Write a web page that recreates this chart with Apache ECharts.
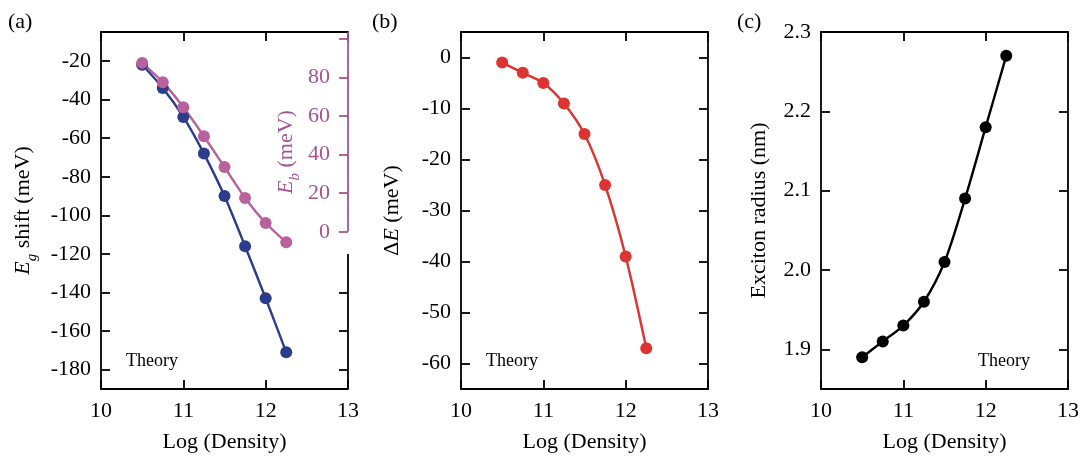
<!DOCTYPE html>
<html><head><meta charset="utf-8">
<script src="https://cdn.jsdelivr.net/npm/echarts@6/dist/echarts.min.js"></script>
<style>html,body{margin:0;padding:0;background:#fff}#c{width:1081px;height:456px}</style>
</head><body><div id="c"></div>
<script>
// ---- data ----
const logDensity = [10.5, 10.75, 11, 11.25, 11.5, 11.75, 12, 12.25];
const egShift = [-22, -34, -49, -68, -90, -116, -143, -171];
const bindingEnergy = [87.5, 77.5, 64.5, 49.5, 33.5, 17.5, 4.5, -5.5];
const deltaE = [-1, -3, -5, -9, -15, -25, -39, -57];
const excitonRadius = [1.89, 1.91, 1.93, 1.96, 2.01, 2.09, 2.18, 2.27];
const xTicks = [10, 11, 12, 13];
const egTicks = [-20, -40, -60, -80, -100, -120, -140, -160, -180];
const egRightTicks = [-140, -160, -180];
const ebTicks = [0, 20, 40, 60, 80, 100];
const ebLabels = [0, 20, 40, 60, 80];
const dETicks = [0, -10, -20, -30, -40, -50, -60];
const rTicks = [1.9, 2.0, 2.1, 2.2, 2.3];

// ---- style ----
const FONT = 'Liberation Serif';
const BLUE = '#2d3c8a', PINK = '#b8619c', PINK_AX = '#a65490', RED = '#dc3431', BLACK = '#000';
const LW = 1.8;

const grids = [
  { left: 101, top: 32, width: 247, height: 357, outerBoundsMode: 'none', containLabel: false },
  { left: 461, top: 32, width: 247, height: 357, outerBoundsMode: 'none', containLabel: false },
  { left: 821, top: 32, width: 247, height: 357, outerBoundsMode: 'none', containLabel: false }
];

function xBottom(g) {
  return {
    gridIndex: g, type: 'value', position: 'bottom', min: 10, max: 13, interval: 1,
    axisLine: { onZero: false, lineStyle: { color: BLACK, width: LW } },
    axisTick: { inside: true, length: 9, lineStyle: { color: BLACK, width: LW } },
    axisLabel: { color: BLACK, fontFamily: FONT, fontSize: 22, margin: 11, customValues: xTicks },
    splitLine: { show: false },
    name: 'Log (Density)', nameLocation: 'middle', nameGap: 42,
    nameTextStyle: { color: BLACK, fontFamily: FONT, fontSize: 22 }
  };
}
function xTop(g) {
  return {
    gridIndex: g, type: 'value', position: 'top', min: 10, max: 13, interval: 1,
    axisLine: { onZero: false, lineStyle: { color: BLACK, width: LW } },
    axisTick: { inside: true, length: 9, lineStyle: { color: BLACK, width: LW } },
    axisLabel: { show: false }, splitLine: { show: false }
  };
}
function zip(xs, ys) { return xs.map((x, i) => [x, ys[i]]); }

const nameRich = {
  i: { fontStyle: 'italic', fontFamily: FONT, fontSize: 22 },
  n: { fontFamily: FONT, fontSize: 22 },
  s: { fontStyle: 'italic', fontFamily: FONT, fontSize: 15, verticalAlign: 'bottom', lineHeight: 34 }
};

const option = {
  animation: false,
  backgroundColor: '#fff',
  grid: grids,
  xAxis: [xBottom(0), xTop(0), xBottom(1), xTop(1), xBottom(2), xTop(2)],
  yAxis: [
    { // a left
      gridIndex: 0, type: 'value', position: 'left', min: -190, max: -5,
      axisLine: { onZero: false, lineStyle: { color: BLACK, width: LW } },
      axisTick: { inside: true, length: 9, lineStyle: { color: BLACK, width: LW }, customValues: egTicks },
      axisLabel: { color: BLACK, fontFamily: FONT, fontSize: 22, margin: 10, customValues: egTicks },
      splitLine: { show: false },
      name: '{i|E}{s|g}{n| shift (meV)}', nameLocation: 'middle', nameRotate: 90, nameGap: 61,
      nameTextStyle: { color: BLACK, fontFamily: FONT, fontSize: 22, rich: nameRich }
    },
    { // a right black
      gridIndex: 0, type: 'value', position: 'right', min: -190, max: -5,
      axisLine: { show: false, onZero: false },
      axisTick: { inside: true, length: 9, lineStyle: { color: BLACK, width: LW }, customValues: egRightTicks },
      axisLabel: { show: false }, splitLine: { show: false }
    },
    { // a right pink (Eb)
      gridIndex: 0, type: 'value', position: 'right', min: -81.5, max: 103.5,
      axisLine: { show: false, onZero: false },
      axisTick: { inside: true, length: 9, lineStyle: { color: PINK_AX, width: LW }, customValues: ebTicks },
      axisLabel: { inside: true, color: PINK_AX, fontFamily: FONT, fontSize: 22, margin: 18, customValues: ebLabels },
      splitLine: { show: false }
    },
    { // b left
      gridIndex: 1, type: 'value', position: 'left', min: -65, max: 5,
      axisLine: { onZero: false, lineStyle: { color: BLACK, width: LW } },
      axisTick: { inside: true, length: 9, lineStyle: { color: BLACK, width: LW }, customValues: dETicks },
      axisLabel: { color: BLACK, fontFamily: FONT, fontSize: 22, margin: 10, customValues: dETicks },
      splitLine: { show: false },
      name: '{n|Δ}{i|E}{n| (meV)}', nameLocation: 'middle', nameRotate: 90, nameGap: 58,
      nameTextStyle: { color: BLACK, fontFamily: FONT, fontSize: 22, rich: nameRich }
    },
    { // b right
      gridIndex: 1, type: 'value', position: 'right', min: -65, max: 5,
      axisLine: { onZero: false, lineStyle: { color: BLACK, width: LW } },
      axisTick: { inside: true, length: 9, lineStyle: { color: BLACK, width: LW }, customValues: dETicks },
      axisLabel: { show: false }, splitLine: { show: false }
    },
    { // c left
      gridIndex: 2, type: 'value', position: 'left', min: 1.85, max: 2.3,
      axisLine: { onZero: false, lineStyle: { color: BLACK, width: LW } },
      axisTick: { inside: true, length: 9, lineStyle: { color: BLACK, width: LW }, customValues: rTicks },
      axisLabel: { color: BLACK, fontFamily: FONT, fontSize: 22, margin: 10, customValues: rTicks,
        formatter: v => Number(v).toFixed(1) },
      splitLine: { show: false },
      name: 'Exciton radius (nm)', nameLocation: 'middle', nameRotate: 90, nameGap: 51,
      nameTextStyle: { color: BLACK, fontFamily: FONT, fontSize: 22 }
    },
    { // c right
      gridIndex: 2, type: 'value', position: 'right', min: 1.85, max: 2.3,
      axisLine: { onZero: false, lineStyle: { color: BLACK, width: LW } },
      axisTick: { inside: true, length: 9, lineStyle: { color: BLACK, width: LW }, customValues: rTicks },
      axisLabel: { show: false }, splitLine: { show: false }
    }
  ],
  series: [
    {
      type: 'line', xAxisIndex: 0, yAxisIndex: 0, data: zip(logDensity, egShift), smooth: 0.25,
      symbol: 'circle', symbolSize: 12, clip: false,
      lineStyle: { color: BLUE, width: 2.4 }, itemStyle: { color: BLUE },
      markLine: { silent: true, symbol: ['none', 'none'], label: { show: false },
        lineStyle: { color: BLACK, width: LW, type: 'solid' },
        data: [[{ coord: [13, -190] }, { coord: [13, -120] }]] }
    },
    {
      type: 'line', xAxisIndex: 0, yAxisIndex: 2, data: zip(logDensity, bindingEnergy), smooth: 0.25,
      symbol: 'circle', symbolSize: 12, clip: false,
      lineStyle: { color: PINK, width: 2.4 }, itemStyle: { color: PINK },
      markLine: { silent: true, symbol: ['none', 'none'], label: { show: false },
        lineStyle: { color: PINK_AX, width: LW, type: 'solid' },
        data: [[{ coord: [13, 0] }, { coord: [13, 103.5] }]] }
    },
    {
      type: 'line', xAxisIndex: 2, yAxisIndex: 3, data: zip(logDensity, deltaE), smooth: 0.3,
      symbol: 'circle', symbolSize: 12,
      lineStyle: { color: RED, width: 2.4 }, itemStyle: { color: RED }
    },
    {
      type: 'line', xAxisIndex: 4, yAxisIndex: 5, data: zip(logDensity, excitonRadius), smooth: 0.3,
      symbol: 'circle', symbolSize: 12,
      lineStyle: { color: BLACK, width: 2.4 }, itemStyle: { color: BLACK }
    }
  ],
  graphic: [
    { type: 'text', x: 8, y: 22, style: { text: '(a)', fontFamily: FONT, fontSize: 22, fill: BLACK, verticalAlign: 'middle' } },
    { type: 'text', x: 372, y: 22, style: { text: '(b)', fontFamily: FONT, fontSize: 22, fill: BLACK, verticalAlign: 'middle' } },
    { type: 'text', x: 737, y: 22, style: { text: '(c)', fontFamily: FONT, fontSize: 22, fill: BLACK, verticalAlign: 'middle' } },
    { type: 'text', x: 126, y: 361, style: { text: 'Theory', fontFamily: FONT, fontSize: 18, fill: BLACK, verticalAlign: 'middle' } },
    { type: 'text', x: 486, y: 361, style: { text: 'Theory', fontFamily: FONT, fontSize: 18, fill: BLACK, verticalAlign: 'middle' } },
    { type: 'text', x: 978, y: 361, style: { text: 'Theory', fontFamily: FONT, fontSize: 18, fill: BLACK, verticalAlign: 'middle' } },
    { type: 'text', x: 286, y: 152, rotation: Math.PI / 2,
      style: { text: '{i|E}{s|b}{n| (meV)}', fill: PINK_AX, fontFamily: FONT, fontSize: 22,
        align: 'center', verticalAlign: 'middle',
        rich: {
          i: { fontStyle: 'italic', fontFamily: FONT, fontSize: 22, fill: PINK_AX },
          n: { fontFamily: FONT, fontSize: 22, fill: PINK_AX },
          s: { fontStyle: 'italic', fontFamily: FONT, fontSize: 15, fill: PINK_AX, verticalAlign: 'bottom', lineHeight: 34 }
        } } }
  ]
};

const chart = echarts.init(document.getElementById('c'), null, { renderer: 'canvas' });
chart.setOption(option);
</script>
</body></html>
